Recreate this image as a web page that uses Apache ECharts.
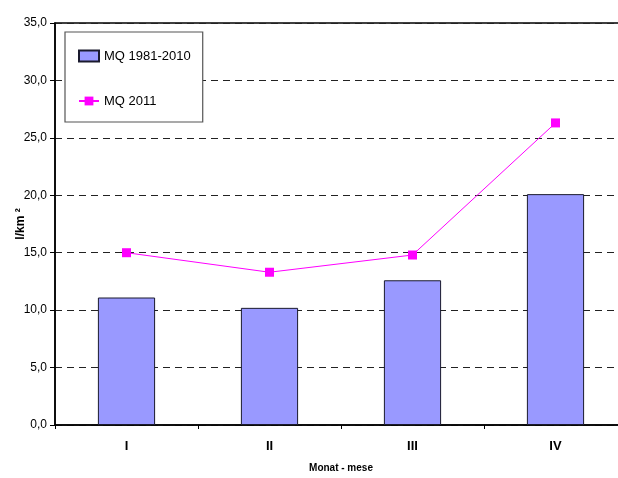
<!DOCTYPE html>
<html>
<head>
<meta charset="utf-8">
<script src="https://cdn.jsdelivr.net/npm/echarts@6/dist/echarts.min.js"></script>
<style>
  html, body { margin: 0; padding: 0; background: #fff; }
  #chart { width: 618px; height: 478px; }
</style>
</head>
<body>
<div id="chart"></div>
<script>
// Monthly specific discharge (l/km²): long-term mean vs. 2011
const months = ['I', 'II', 'III', 'IV'];
const mqLongTerm = [11.1, 10.2, 12.6, 20.1];
const mq2011 = [15.0, 13.3, 14.8, 26.3];
const yTicks = { min: 0, max: 35, step: 5 };

const FONT = '"Liberation Sans", Arial, sans-serif';

const chart = echarts.init(document.getElementById('chart'), null, { renderer: 'canvas' });

chart.setOption({
  animation: false,
  backgroundColor: '#fff',
  textStyle: { fontFamily: FONT },
  grid: {
    left: 55, right: -9, top: 23, bottom: 53,
    outerBoundsMode: 'none',
    containLabel: false,
    show: true, borderColor: '#000', borderWidth: 1.5, backgroundColor: 'transparent'
  },
  legend: {
    orient: 'vertical',
    left: 65, top: 32,
    padding: [16, 12, 13, 13],
    itemGap: 29,
    itemWidth: 20, itemHeight: 11,
    backgroundColor: '#fff',
    borderColor: '#555', borderWidth: 1.2,
    textStyle: { fontFamily: FONT, fontSize: 13, lineHeight: 16, color: '#000' },
    data: [
      { name: 'MQ 1981-2010', icon: 'rect' },
      { name: 'MQ 2011' }
    ]
  },
  xAxis: {
    type: 'category',
    data: months,
    name: 'Monat - mese',
    nameLocation: 'middle',
    nameGap: 38,
    nameTextStyle: { fontFamily: FONT, fontSize: 10, fontWeight: 'bold', color: '#000' },
    axisLine: { lineStyle: { color: '#000', width: 1.5 } },
    axisTick: { show: true, length: 4, lineStyle: { color: '#000' } },
    axisLabel: { fontFamily: FONT, fontSize: 13, fontWeight: 'bold', color: '#000', margin: 15 },
    splitLine: { show: false }
  },
  yAxis: {
    type: 'value',
    min: yTicks.min, max: yTicks.max, interval: yTicks.step,
    name: 'l/km ²',
    nameLocation: 'middle',
    nameGap: 28,
    nameMoveOverlap: false,
    nameTextStyle: { fontFamily: FONT, fontSize: 12, fontWeight: 'bold', color: '#000' },
    axisLine: { show: true, lineStyle: { color: '#000', width: 1.5 } },
    axisTick: { show: true, length: 5, lineStyle: { color: '#000' } },
    axisLabel: {
      fontFamily: FONT, fontSize: 12, color: '#000', margin: 8,
      formatter: v => v.toFixed(1).replace('.', ',')
    },
    splitLine: { show: true, lineStyle: { color: '#222', type: [7, 5], width: 1 } }
  },
  series: [
    {
      name: 'MQ 1981-2010',
      type: 'bar',
      data: mqLongTerm,
      barWidth: '40%',
      itemStyle: { color: '#9999FF', borderColor: '#1a1a2e', borderWidth: 1 },
      z: 2
    },
    {
      name: 'MQ 2011',
      type: 'line',
      data: mq2011,
      symbol: 'rect',
      symbolSize: 9,
      lineStyle: { color: '#FF00FF', width: 1 },
      itemStyle: { color: '#FF00FF' },
      z: 3
    }
  ]
});
</script>
</body>
</html>
